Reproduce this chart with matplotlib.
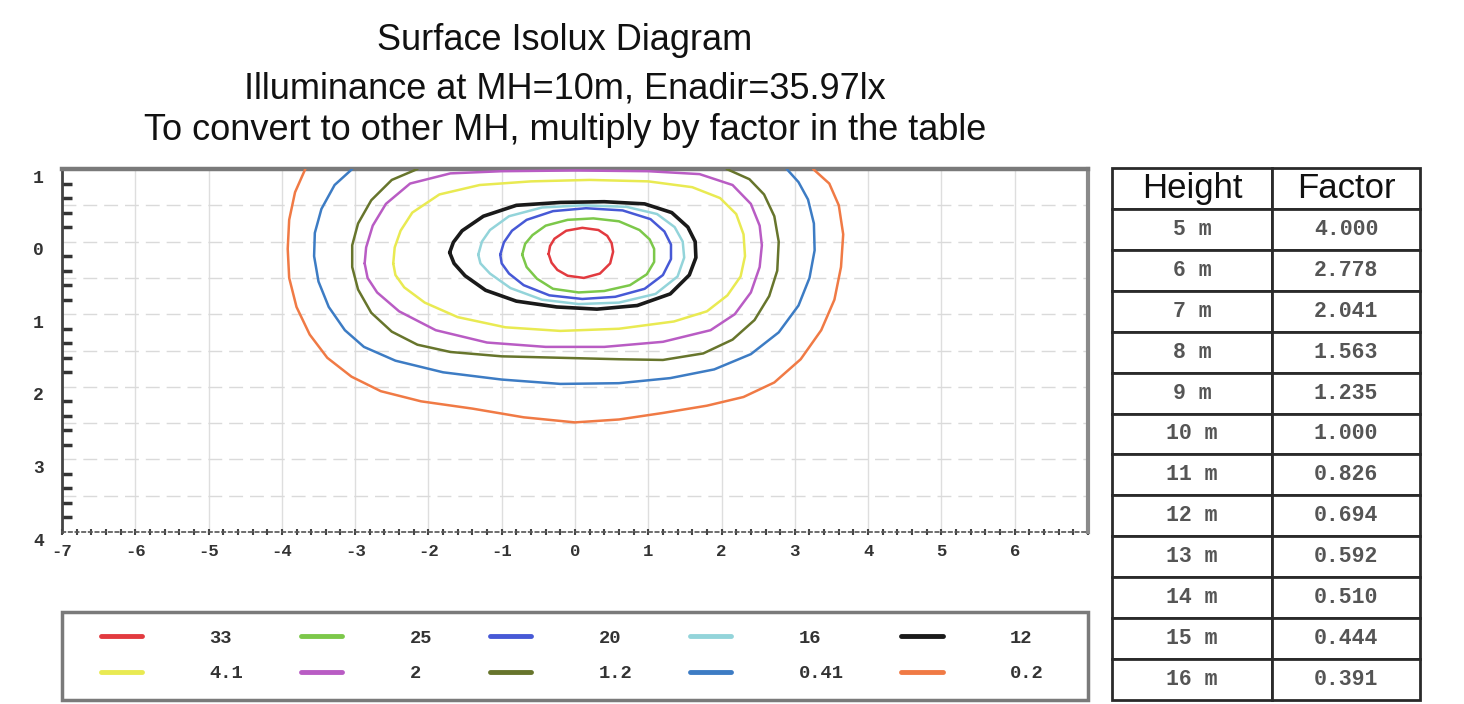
import matplotlib
matplotlib.use("Agg")
import matplotlib.pyplot as plt
from matplotlib.ticker import FixedLocator, FixedFormatter, MultipleLocator
import matplotlib.transforms as mtransforms
from matplotlib.patches import Rectangle

plt.rcParams['axes.unicode_minus'] = False

# ---------------- data ----------------
title_lines = ["Surface Isolux Diagram",
               "Illuminance at MH=10m, Enadir=35.97lx",
               "To convert to other MH, multiply by factor in the table"]

levels = [33, 25, 20, 16, 12, 4.1, 2, 1.2, 0.41, 0.2]
level_labels = ["33", "25", "20", "16", "12", "4.1", "2", "1.2", "0.41", "0.2"]

c33_x = [-0.36, -0.34, -0.28, -0.12, 0.10, 0.32, 0.44, 0.50, 0.52, 0.48, 0.34, 0.12, -0.10, -0.24, -0.32, -0.36]
c33_y = [0.17, 0.06, -0.04, -0.15, -0.19, -0.16, -0.08, 0.02, 0.14, 0.30, 0.44, 0.50, 0.47, 0.39, 0.29, 0.17]

c25_x = [-0.72, -0.68, -0.58, -0.40, -0.10, 0.25, 0.60, 0.88, 1.02, 1.08, 1.08, 0.98, 0.75, 0.40, 0.05, -0.30, -0.52, -0.66, -0.72]
c25_y = [0.18, 0.03, -0.09, -0.22, -0.30, -0.32, -0.28, -0.16, -0.03, 0.10, 0.28, 0.45, 0.60, 0.68, 0.70, 0.65, 0.51, 0.35, 0.18]

c20_x = [-1.02, -0.97, -0.86, -0.66, -0.30, 0.15, 0.65, 1.03, 1.22, 1.31, 1.31, 1.20, 0.95, 0.55, 0.10, -0.35, -0.70, -0.90, -1.00, -1.02]
c20_y = [0.18, 0.01, -0.15, -0.30, -0.42, -0.46, -0.43, -0.31, -0.14, 0.04, 0.24, 0.46, 0.65, 0.76, 0.79, 0.74, 0.60, 0.44, 0.30, 0.18]

c16_x = [-1.32, -1.27, -1.16, -0.90, -0.45, 0.10, 0.70, 1.12, 1.36, 1.47, 1.49, 1.40, 1.10, 0.60, 0.05, -0.45, -0.88, -1.16, -1.29, -1.32]
c16_y = [0.18, 0.00, -0.16, -0.35, -0.47, -0.50, -0.48, -0.38, -0.20, 0.00, 0.22, 0.48, 0.72, 0.84, 0.86, 0.80, 0.64, 0.44, 0.30, 0.18]

c12_x = [-1.71, -1.66, -1.54, -1.25, -0.80, -0.20, 0.40, 0.95, 1.32, 1.54, 1.64, 1.65, 1.56, 1.30, 0.85, 0.30, -0.25, -0.80, -1.22, -1.50, -1.65, -1.71]
c12_y = [0.15, 0.01, -0.15, -0.35, -0.50, -0.54, -0.55, -0.52, -0.40, -0.20, 0.00, 0.22, 0.46, 0.72, 0.88, 0.93, 0.90, 0.82, 0.67, 0.47, 0.30, 0.15]

c4_1_x = [-2.48, -2.46, -2.38, -2.22, -1.85, -1.30, -0.60, 0.20, 1.00, 1.60, 1.98, 2.20, 2.30, 2.32, 2.26, 2.08, 1.80, 1.35, 0.60, -0.20, -0.95, -1.60, -2.05, -2.33, -2.45, -2.48]
c4_1_y = [0.30, 0.08, -0.15, -0.40, -0.65, -0.78, -0.83, -0.85, -0.83, -0.75, -0.60, -0.38, -0.10, 0.20, 0.48, 0.74, 0.96, 1.10, 1.20, 1.23, 1.18, 1.04, 0.84, 0.63, 0.46, 0.30]

c2_x = [-2.87, -2.85, -2.76, -2.58, -2.25, -1.70, -1.00, 0.00, 1.00, 1.70, 2.15, 2.40, 2.52, 2.55, 2.52, 2.40, 2.18, 1.85, 1.20, 0.40, -0.40, -1.20, -1.90, -2.40, -2.70, -2.83, -2.87]
c2_y = [0.30, 0.08, -0.22, -0.52, -0.80, -0.94, -0.97, -0.98, -0.97, -0.93, -0.78, -0.52, -0.22, 0.05, 0.35, 0.70, 1.00, 1.22, 1.38, 1.45, 1.45, 1.39, 1.22, 0.96, 0.70, 0.50, 0.30]

c1_2_x = [-2.15, -2.50, -2.78, -2.96, -3.04, -3.04, -2.96, -2.78, -2.50, -2.15, -1.70, -1.00, -0.20, 0.60, 1.20, 1.75, 2.15, 2.45, 2.65, 2.76, 2.78, 2.72, 2.58, 2.38, 2.07]
c1_2_y = [-1.00, -0.85, -0.57, -0.25, 0.05, 0.35, 0.66, 0.98, 1.24, 1.42, 1.52, 1.58, 1.60, 1.62, 1.63, 1.54, 1.35, 1.08, 0.75, 0.40, 0.00, -0.35, -0.65, -0.86, -1.00]

c0_41_x = [-3.04, -3.28, -3.46, -3.55, -3.56, -3.50, -3.36, -3.14, -2.88, -2.45, -1.80, -1.00, -0.20, 0.60, 1.30, 1.90, 2.40, 2.78, 3.05, 3.20, 3.27, 3.26, 3.18, 3.05, 2.89]
c0_41_y = [-1.00, -0.78, -0.45, -0.12, 0.20, 0.55, 0.90, 1.22, 1.45, 1.64, 1.80, 1.90, 1.96, 1.95, 1.88, 1.76, 1.55, 1.25, 0.88, 0.50, 0.12, -0.25, -0.58, -0.82, -1.00]

c0_2_x = [-3.68, -3.82, -3.90, -3.92, -3.90, -3.80, -3.62, -3.38, -3.05, -2.65, -2.10, -1.40, -0.70, 0.00, 0.60, 1.20, 1.80, 2.30, 2.72, 3.08, 3.36, 3.54, 3.63, 3.66, 3.60, 3.47, 3.25]
c0_2_y = [-1.00, -0.68, -0.30, 0.10, 0.50, 0.90, 1.28, 1.60, 1.86, 2.06, 2.20, 2.30, 2.42, 2.49, 2.45, 2.36, 2.26, 2.14, 1.94, 1.62, 1.22, 0.80, 0.35, -0.10, -0.50, -0.80, -1.00]

x_ticks = [-7, -6, -5, -4, -3, -2, -1, 0, 1, 2, 3, 4, 5, 6, 7]
x_tick_labels = ["-7", "-6", "-5", "-4", "-3", "-2", "-1", "0", "1", "2", "3", "4", "5", "6", ""]
y_ticks = [-1, -0.5, 0, 0.5, 1, 1.5, 2, 2.5, 3, 3.5, 4]
y_tick_labels = ["1", "", "0", "", "1", "", "2", "", "3", "", "4"]

heights = ["5 m", "6 m", "7 m", "8 m", "9 m", "10 m", "11 m", "12 m", "13 m", "14 m", "15 m", "16 m"]
factors = ["4.000", "2.778", "2.041", "1.563", "1.235", "1.000", "0.826", "0.694", "0.592", "0.510", "0.444", "0.391"]

# ---------------- styles ----------------
colors = ["#e23a3f", "#7cc84a", "#4759d6", "#93d4da", "#1a1a1a",
          "#e9ea52", "#b95cc4", "#67752c", "#3d7cc4", "#f07a45"]
widths = [1.8, 1.8, 1.8, 1.8, 2.6, 1.8, 1.8, 1.8, 1.8, 1.8]

mono = "Liberation Mono"
sans = "Liberation Sans"

fig = plt.figure(figsize=(14.64, 7.04), dpi=100)
fig.patch.set_facecolor("white")

# titles
for txt, yy in zip(title_lines, [0.942, 0.874, 0.815]):
    fig.text(0.386, yy, txt, ha="center", va="center", fontsize=26, family=sans, color="#111111")

# ---------------- main axes ----------------
ax = fig.add_axes([0.04235, 0.2443, 0.7008, 0.5156])
ax.set_xlim(-7, 7)
ax.set_ylim(4, -1)

contours_x = [c33_x, c25_x, c20_x, c16_x, c12_x, c4_1_x, c2_x, c1_2_x, c0_41_x, c0_2_x]
contours_y = [c33_y, c25_y, c20_y, c16_y, c12_y, c4_1_y, c2_y, c1_2_y, c0_41_y, c0_2_y]
handles = []
for cx, cy, col, lw, lab in zip(contours_x, contours_y, colors, widths, level_labels):
    h, = ax.plot(cx, cy, color=col, lw=lw, label=lab, solid_joinstyle="round",
                 solid_capstyle="round", zorder=3)
    handles.append(h)

ax.xaxis.set_major_locator(FixedLocator(x_ticks))
ax.xaxis.set_major_formatter(FixedFormatter(x_tick_labels))
ax.xaxis.set_minor_locator(MultipleLocator(0.2))
ax.yaxis.set_major_locator(FixedLocator(y_ticks))
ax.yaxis.set_major_formatter(FixedFormatter(y_tick_labels))
ax.yaxis.set_minor_locator(MultipleLocator(0.2))

ax.grid(axis="x", which="major", color="#dedede", lw=1.0, zorder=0)
ax.grid(axis="y", which="major", color="#dadada", lw=1.0, ls=(0, (10, 5)), zorder=0)

ax.tick_params(axis="x", which="major", length=5, width=1.5, direction="inout", color="#444444",
               labelsize=12.5, pad=6)
ax.tick_params(axis="x", which="minor", length=4, width=1.5, direction="inout", color="#444444")
ax.tick_params(axis="y", which="major", length=0, labelsize=13, pad=13)
ax.tick_params(axis="y", which="minor", length=7, width=2.5, direction="in", color="#333333")

for lab in ax.get_xticklabels():
    lab.set_family(mono)
    lab.set_fontweight("bold")
    lab.set_color("#333333")
offset = mtransforms.ScaledTranslation(0, -7 / 100.0, fig.dpi_scale_trans)
for lab in ax.get_yticklabels():
    lab.set_family(mono)
    lab.set_fontweight("bold")
    lab.set_color("#333333")
    lab.set_transform(lab.get_transform() + offset)

ax.spines["top"].set_color("#7a7a7a")
ax.spines["top"].set_linewidth(3.2)
ax.spines["right"].set_color("#8a8a8a")
ax.spines["right"].set_linewidth(3.0)
ax.spines["left"].set_color("#444444")
ax.spines["left"].set_linewidth(2.0)
ax.spines["bottom"].set_color("#555555")
ax.spines["bottom"].set_linewidth(1.2)
ax.spines["bottom"].set_linestyle((0, (2, 2)))

# ---------------- legend ----------------
fig.patches.append(Rectangle((0.04235, 0.0057), 0.7008, 0.125, transform=fig.transFigure,
                             fill=False, edgecolor="#7a7a7a", lw=2.5, zorder=1))
order = [0, 5, 1, 6, 2, 7, 3, 8, 4, 9]
leg = fig.legend([handles[i] for i in order], [level_labels[i] for i in order],
                 loc="center", bbox_to_anchor=(0.0649, 0.0057, 0.652, 0.125),
                 mode="expand", ncol=5, frameon=False, borderaxespad=0,
                 handlelength=2.2, handletextpad=3.6, labelspacing=1.0, borderpad=0.3,
                 prop={"family": mono, "weight": "bold", "size": 13.5})
for ln in leg.get_lines():
    ln.set_linewidth(3.5)
for t in leg.get_texts():
    t.set_color("#333333")

# ---------------- table ----------------
axt = fig.add_axes([0.7596, 0.0057, 0.2104, 0.7557])
axt.axis("off")
cell_text = [[h, f] for h, f in zip(heights, factors)]
tbl = axt.table(cellText=cell_text, colLabels=["Height", "Factor"], bbox=[0, 0, 1, 1],
                cellLoc="center", colWidths=[0.52, 0.48])
tbl.auto_set_font_size(False)
for (r, c), cell in tbl.get_celld().items():
    cell.set_edgecolor("#2a2a2a")
    cell.set_linewidth(2.0)
    if r == 0:
        cell.get_text().set_fontsize(25)
        cell.get_text().set_family(sans)
        cell.get_text().set_color("#111111")
    else:
        cell.get_text().set_fontsize(15.5)
        cell.get_text().set_family(mono)
        cell.get_text().set_fontweight("bold")
        cell.get_text().set_color("#555555")

fig.savefig("out.png", dpi=100, facecolor="white")
